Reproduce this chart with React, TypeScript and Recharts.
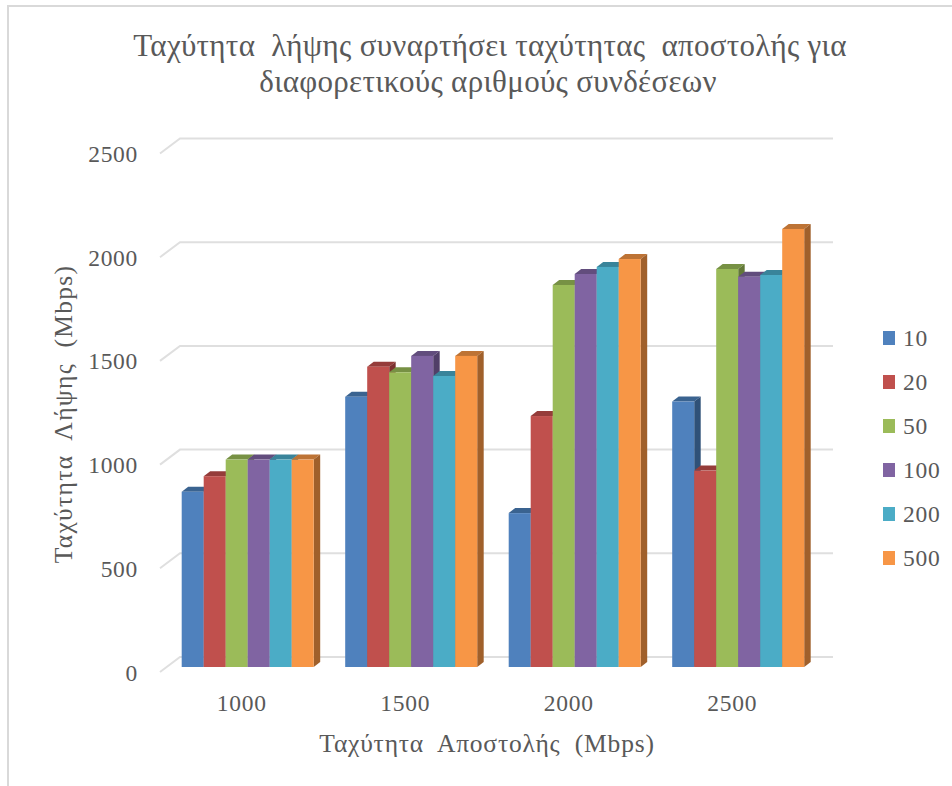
import React from 'react';
import { BarChart, Bar, XAxis, YAxis, CartesianGrid, Legend } from 'recharts';

const categories = ['1000', '1500', '2000', '2500'];
const seriesNames = ['10', '20', '50', '100', '200', '500'];
const s10 = [845, 1303, 742, 1280];
const s20 = [920, 1448, 1210, 947];
const s50 = [1000, 1421, 1842, 1919];
const s100 = [1000, 1500, 1895, 1882];
const s200 = [1000, 1403, 1929, 1890];
const s500 = [1000, 1500, 1967, 2112];
const allSeries = [s10, s20, s50, s100, s200, s500];
const yTicks = [0, 500, 1000, 1500, 2000, 2500];
const titleLines = ['Ταχύτητα  λήψης συναρτήσει ταχύτητας  αποστολής για', 'διαφορετικούς αριθμούς συνδέσεων'];
const xTitle = 'Ταχύτητα  Αποστολής  (Mbps)';
const yTitle = 'Ταχύτητα  Λήψης  (Mbps)';

const frontColors = ['#4f81bd', '#c0504d', '#9bbb59', '#8064a2', '#4bacc6', '#f79646'];
const topColors = ['#3a6390', '#953c3a', '#779144', '#624d7d', '#39849a', '#bd7335'];
const sideColors = ['#2f5178', '#7c3130', '#627838', '#513f68', '#2f6e80', '#a0602b'];

const data = categories.map((c, i) => {
  const row: Record<string, string | number> = { cat: c };
  seriesNames.forEach((n, k) => {
    row['s' + n] = allSeries[k][i];
  });
  return row;
});

const DX = 6.5;
const DY = 5;
const FONT = '"Liberation Serif", serif';
const TEXT = '#595959';

const makeShape = (k: number) => (p: any) => {
  const { x, y, width: w, height: h, fill } = p;
  return (
    <g>
      <polygon points={`${x},${y} ${x + w},${y} ${x + w + DX},${y - DY} ${x + DX},${y - DY}`} fill={topColors[k]} />
      <polygon points={`${x + w},${y} ${x + w + DX},${y - DY} ${x + w + DX},${y + h - DY} ${x + w},${y + h}`} fill={sideColors[k]} />
      <rect x={x} y={y} width={w} height={h} fill={fill} />
    </g>
  );
};

const gridLine = (p: any) => {
  const { x1, x2, y1, key } = p;
  return (
    <path
      key={key}
      d={`M${x1 - 5},${y1 + 5} L${x1 + 15},${y1 - 10} L${x2 + 14},${y1 - 10}`}
      fill="none"
      stroke="#dfdfdf"
      strokeWidth={2}
    />
  );
};

const YTick = (p: any) => (
  <text x={138} y={p.y + 13.5} textAnchor="end" fontFamily={FONT} fontSize={23.5} letterSpacing={0.7} fill={TEXT}>
    {p.payload.value}
  </text>
);

const XTick = (p: any) => (
  <text x={p.x - 5} y={711} textAnchor="middle" fontFamily={FONT} fontSize={23.5} letterSpacing={0.7} fill={TEXT}>
    {p.payload.value}
  </text>
);

const LegendBox = (p: any) => (
  <div style={{ fontFamily: FONT, fontSize: 23.5, letterSpacing: 0.7, color: TEXT }}>
    {(p.payload || []).map((e: any) => (
      <div key={e.value} style={{ height: 44, display: 'flex', alignItems: 'center' }}>
        <span style={{ width: 12, height: 14, background: e.color, marginRight: 8, display: 'inline-block' }} />
        <span>{e.value}</span>
      </div>
    ))}
  </div>
);

export default function App() {
  return (
    <div style={{ position: 'fixed', left: 0, top: 0, width: 952, height: 786, background: '#fff', overflow: 'hidden' }}>
      <div style={{ position: 'absolute', left: 7, top: 5, right: 0, height: 2, background: '#d9d9d9' }} />
      <div style={{ position: 'absolute', left: 7, top: 5, bottom: 0, width: 2, background: '#d9d9d9' }} />
      <BarChart
        width={952}
        height={786}
        data={data}
        margin={{ top: 148.5, right: 64, bottom: 89, left: 105 }}
        barCategoryGap={16.7}
        barGap={0}
      >
        <CartesianGrid vertical={false} horizontal={gridLine} />
        <XAxis dataKey="cat" axisLine={false} tickLine={false} height={30} tick={XTick} interval={0} />
        <YAxis width={60} domain={[0, 2500]} ticks={yTicks} axisLine={false} tickLine={false} tick={YTick} />
        <Legend
          layout="vertical"
          align="right"
          verticalAlign="top"
          itemSorter={null}
          content={LegendBox}
          wrapperStyle={{ left: 883, top: 316, width: 69, right: 'auto' }}
        />
        {seriesNames.map((n, k) => (
          <Bar
            key={n}
            dataKey={'s' + n}
            name={n}
            fill={frontColors[k]}
            shape={makeShape(k)}
            isAnimationActive={false}
          />
        ))}
        <text textAnchor="middle" fontFamily={FONT} fontSize={31} letterSpacing={0.3} fill={TEXT} style={{ whiteSpace: 'pre' }}>
          <tspan x={490} y={56}>{titleLines[0]}</tspan>
          <tspan x={488} y={92}>{titleLines[1]}</tspan>
        </text>
        <text x={487} y={752} textAnchor="middle" fontFamily={FONT} fontSize={25.5} letterSpacing={0.8} fill={TEXT} style={{ whiteSpace: 'pre' }}>
          {xTitle}
        </text>
        <text
          transform="translate(72,414) rotate(-90)"
          textAnchor="middle"
          fontFamily={FONT}
          fontSize={25.5}
          letterSpacing={1.3}
          fill={TEXT}
          style={{ whiteSpace: 'pre' }}
        >
          {yTitle}
        </text>
      </BarChart>
    </div>
  );
}
